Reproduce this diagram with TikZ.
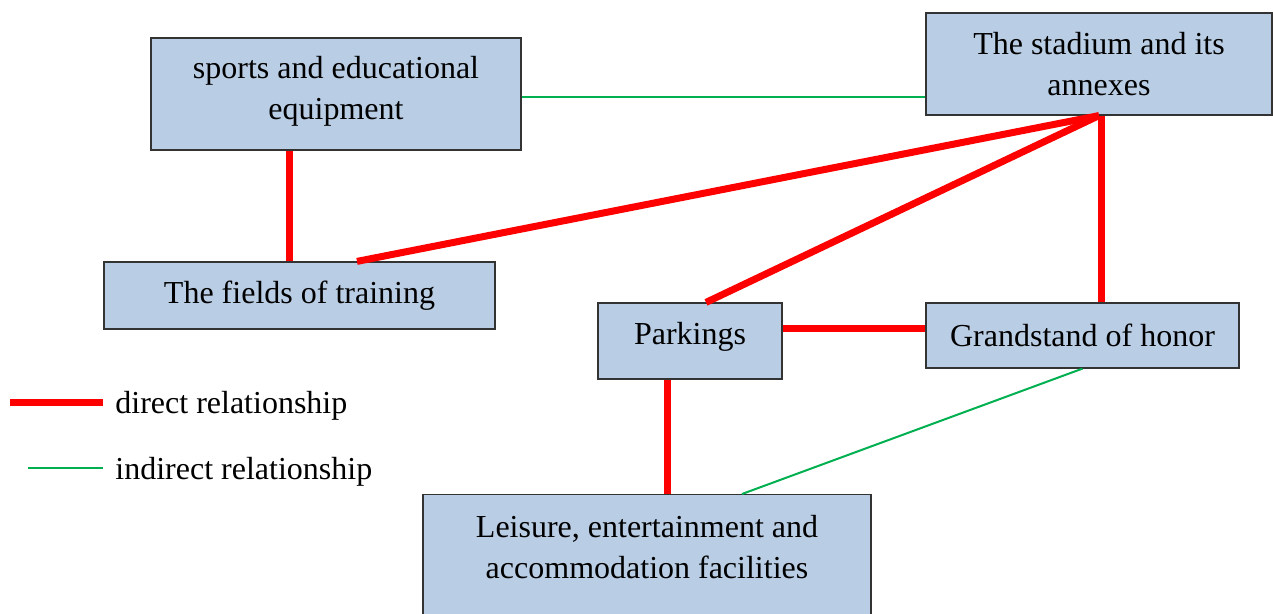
\documentclass[tikz,border=0pt]{standalone}
\usepackage{fontspec}
\setmainfont{Liberation Serif}
\usepackage{tikz}
\usetikzlibrary{calc}
\definecolor{boxblue}{RGB}{185,205,228}
\definecolor{relgreen}{RGB}{0,176,80}

\begin{document}
\begin{tikzpicture}[x=0.5pt,y=-0.5pt]
        \tikzset{BoxStyle/.style = {draw = black!80, fill = boxblue, line width = 0.6pt, inner sep=0, align=center, font=\fontsize{16}{20.5}\selectfont}}
        \tikzset{LegendStyle/.style = {inner sep=0, font=\fontsize{16}{20.5}\selectfont}}
        \tikzset{DirectStyle/.style = {draw = red, line width = 3.5pt}}
        \tikzset{IndirectStyle/.style = {draw = relgreen, line width = 1pt}}
    \clip (0,0) rectangle (1273,614);

    \node[BoxStyle, minimum width=185pt, minimum height=56pt, text depth=6pt] at (336,94) (equip) {sports and educational\\equipment};
    \node[BoxStyle, minimum width=173pt, minimum height=51pt] at (1099,64) (stadium) {The stadium and its\\annexes};
    \node[BoxStyle, minimum width=195.5pt, minimum height=33.5pt] at (299.5,295.5) (fields) {The fields of training};
    \node[BoxStyle, minimum width=92pt, minimum height=38pt, text depth=7.5pt] at (690,341) (park) {Parkings};
    \node[BoxStyle, minimum width=156.5pt, minimum height=32.5pt] at (1082.5,335.5) (honor) {Grandstand of honor};
    \node[BoxStyle, minimum width=224pt, anchor=north, text height=32.5pt, text depth=80pt, inner ysep=9.5pt] at (647,494) (leisure) {Leisure, entertainment and\\accommodation facilities};

    \path[DirectStyle]
        ($(equip.south)+(-47,0)$) edge ($(fields.north)+(-10.5,0)$)
        (stadium.south) edge ($(fields.north)+(57.5,0)$)
        (stadium.south) edge ($(park.north)+(16,0)$)
        ($(stadium.south)+(2,0)$) edge ($(honor.north)+(18.5,0)$)
        ($(park.east)+(0,-12)$) edge ($(honor.west)+(0,-6.5)$)
        ($(park.south)+(-23,0)$) edge ($(leisure.north)+(20,0)$)
        ;
    \path[IndirectStyle]
        ($(equip.east)+(0,3)$) edge ($(stadium.west)+(0,33)$)
        (honor.south) edge ($(leisure.north)+(95,0)$)
        ;

    % legend
    \coordinate (dirA) at (10,402);
    \coordinate (dirB) at (103,402);
    \coordinate (indA) at (28,468);
    \coordinate (indB) at (103,468);
    \node[LegendStyle, anchor=west] at (115,406) (dirtext) {direct relationship};
    \node[LegendStyle, anchor=west] at (115,472) (indtext) {indirect relationship};
    \path[DirectStyle] (dirA) edge (dirB);
    \path[IndirectStyle] (indA) edge (indB);
\end{tikzpicture}
\end{document}
